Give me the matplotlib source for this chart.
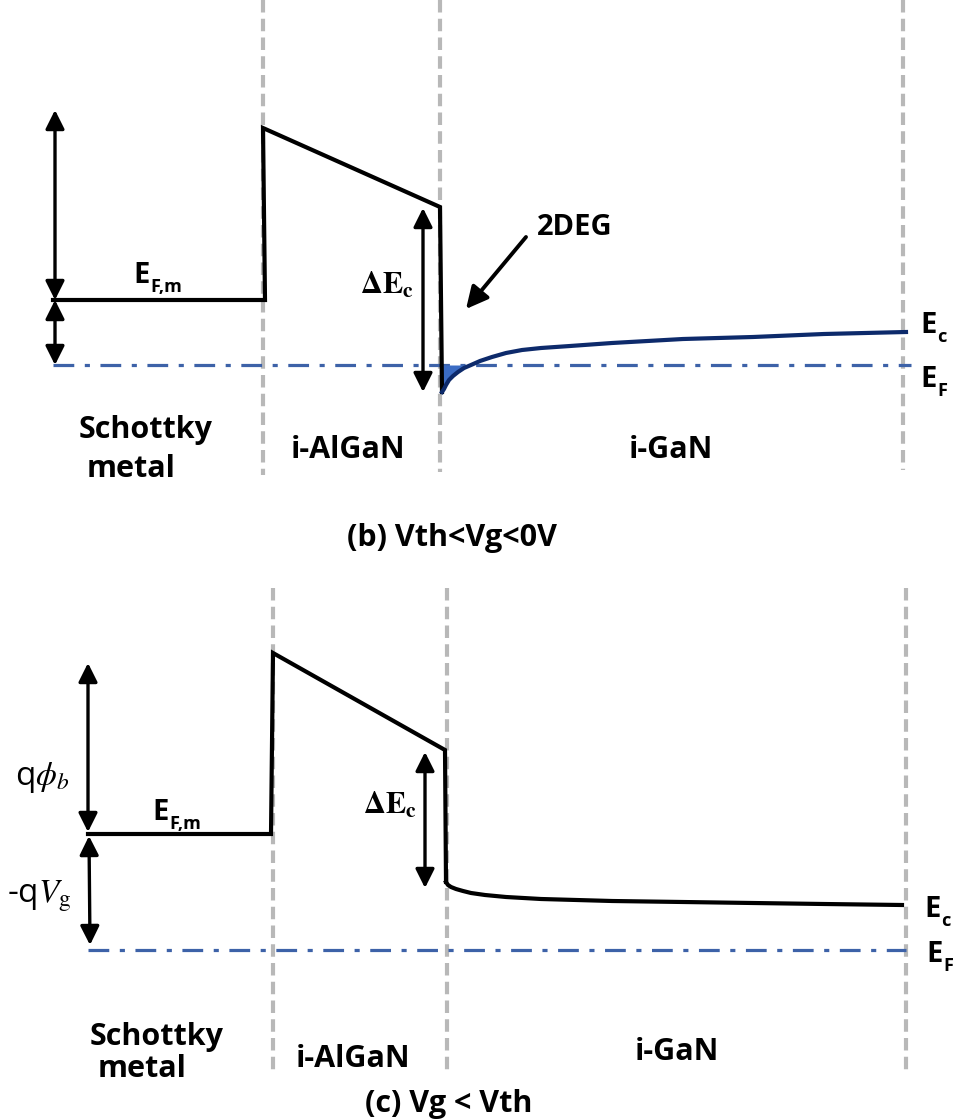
import numpy as np
import matplotlib.pyplot as plt

plt.rcParams['font.family'] = ['Open Sans', 'DejaVu Sans']

# ---- data (picture coordinates, y grows downward) ----
# panel (b): Vth < Vg < 0V
b_band_x = [53, 265, 263, 440, 442]
b_band_y = [300, 300, 128, 207, 392]
b_ec_x = [442, 444, 446, 449, 453, 458, 464, 471, 480, 492, 506, 522, 541, 570, 612, 683, 753, 824, 906]
b_ec_y = [392, 389, 385, 380, 376, 372, 368, 365, 361, 357, 353, 350, 348, 346, 343, 339, 337, 334, 332]
b_ef = 365
b_bounds = [263, 440, 903]
b_bound_end = [475, 472, 470]

# panel (c): Vg < Vth
c_band_x = [88, 271, 273, 445, 446]
c_band_y = [834, 834, 653, 750, 882]
c_ec_x = [446, 448, 451, 456, 463, 471, 485, 506, 541, 612, 683, 753, 824, 902]
c_ec_y = [882, 885, 887, 889, 891, 893, 895, 897, 899, 901, 902, 903, 904, 905]
c_ef = 950
c_bounds = [273, 447, 906]
c_bound_end = [1075, 1075, 1070]

regions = ['Schottky', 'metal', 'i-AlGaN', 'i-GaN']

BLACK = '#000000'
GREY = '#b8b8b8'
BLUE = '#3d62a8'
NAVY = '#0d2a6b'
FILL = '#3b6cc4'

fig = plt.figure(figsize=(9.54, 11.2), dpi=100)
ax = fig.add_axes([0, 0, 1, 1])
ax.set_xlim(0, 954)
ax.set_ylim(1120, 0)
ax.axis('off')


def vline(x, y0, y1):
    ax.plot([x, x], [y0, y1], color=GREY, lw=3, dashes=(3, 1.5), zorder=1)


def darrow(x0, y0, x1, y1):
    ax.annotate('', xy=(x1, y1), xytext=(x0, y0),
                arrowprops=dict(arrowstyle='<|-|>,head_length=0.6,head_width=0.3',
                                color=BLACK, lw=2.4,
                                mutation_scale=19, shrinkA=0, shrinkB=0))


def elabel(x, y, sub, size=21):
    # bold E with a bold subscript, x is the left edge, y the baseline
    t = ax.text(x, y, 'E', fontsize=size, fontweight='bold', ha='left', va='baseline')
    ax.annotate(sub, xy=(1, 0), xycoords=t, xytext=(0.5, 2), textcoords='offset points',
                fontsize=size * 0.62, fontweight='bold', ha='left', va='center')


# boundaries
for x, ye in zip(b_bounds, b_bound_end):
    vline(x, 0, ye)
for x, ye in zip(c_bounds, c_bound_end):
    vline(x, 588, ye)

# Fermi levels
ax.plot([53, 911], [b_ef, b_ef], color=BLUE, lw=2.3, dashes=(6.5, 3.3, 1.6, 3.3), zorder=2)
ax.plot([88, 906], [c_ef, c_ef], color=BLUE, lw=2.3, dashes=(6.5, 3.3, 1.6, 3.3), zorder=2)

# panel (b) bands
ax.plot(b_band_x, b_band_y, color=BLACK, lw=3, solid_joinstyle='miter', zorder=3)
bx = np.array(b_ec_x)
by = np.array(b_ec_y)
ax.fill_between(bx, by, b_ef, where=by >= b_ef, interpolate=True, color=FILL, lw=0, zorder=2)
ax.plot(bx, by, color=NAVY, lw=3, zorder=3)

darrow(55, 110, 55, 300)
darrow(55, 300, 55, 365)
darrow(423, 208, 423, 392)
ax.annotate('', xy=(466, 309), xytext=(526, 237),
            arrowprops=dict(arrowstyle='-|>,head_length=0.6,head_width=0.3', color=BLACK,
                            lw=2.8, mutation_scale=22, shrinkA=0, shrinkB=0))

elabel(133, 283, 'F,m')
ax.text(387, 294, r'$\mathbf{\Delta E_c}$', fontsize=22, ha='center', va='baseline',
        math_fontfamily='stix')
ax.text(575, 235, '2DEG', fontsize=21, fontweight='bold', ha='center', va='baseline')
elabel(920, 333, 'c')
elabel(920, 387, 'F')

ax.text(146, 438, regions[0], fontsize=22, fontweight='bold', ha='center', va='baseline')
ax.text(131, 477, regions[1], fontsize=22, fontweight='bold', ha='center', va='baseline')
ax.text(348, 458, regions[2], fontsize=22, fontweight='bold', ha='center', va='baseline')
ax.text(671, 458, regions[3], fontsize=22, fontweight='bold', ha='center', va='baseline')
ax.text(452, 546, '(b) Vth<Vg<0V', fontsize=22, fontweight='bold', ha='center', va='baseline')

# panel (c) bands
ax.plot(c_band_x, c_band_y, color=BLACK, lw=3, solid_joinstyle='miter', zorder=3)
ax.plot(c_ec_x, c_ec_y, color=BLACK, lw=3, zorder=3)

darrow(88, 663, 88, 832)
darrow(89, 836, 90, 945)
darrow(425, 752, 425, 888)

ax.text(42, 785, r'q$\phi_b$', fontsize=24, ha='center', va='baseline', math_fontfamily='stix')
ax.text(39, 903, r'-q$V_{\rm g}$', fontsize=24, ha='center', va='baseline', math_fontfamily='stix')
elabel(152, 820, 'F,m')
ax.text(390, 813, r'$\mathbf{\Delta E_c}$', fontsize=22, ha='center', va='baseline',
        math_fontfamily='stix')
elabel(924, 917, 'c')
elabel(926, 962, 'F')

ax.text(157, 1045, regions[0], fontsize=22, fontweight='bold', ha='center', va='baseline')
ax.text(142, 1077, regions[1], fontsize=22, fontweight='bold', ha='center', va='baseline')
ax.text(353, 1067, regions[2], fontsize=22, fontweight='bold', ha='center', va='baseline')
ax.text(677, 1060, regions[3], fontsize=22, fontweight='bold', ha='center', va='baseline')
ax.text(449, 1112, '(c) Vg < Vth', fontsize=22, fontweight='bold', ha='center', va='baseline')

fig.savefig('out.png', dpi=100)
